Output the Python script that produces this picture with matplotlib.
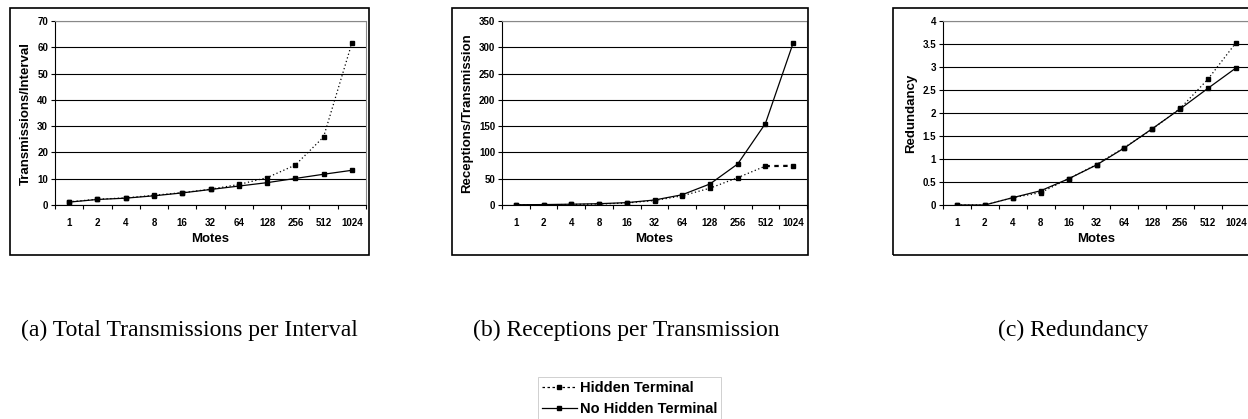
import numpy as np
import matplotlib.pyplot as plt
from matplotlib.patches import Rectangle
from matplotlib.lines import Line2D

plt.rcParams.update({
    'font.family': 'Liberation Sans',
    'font.weight': 'bold',
    'font.size': 7,
})

# --------------------------------------------------------------------------
# Data
# --------------------------------------------------------------------------
motes = ['1', '2', '4', '8', '16', '32', '64', '128', '256', '512', '1024']

tx_hidden    = [1.2, 2.2, 2.7, 3.7, 4.7, 6.0, 7.8, 10.4, 15.2, 25.9, 61.6]
tx_nohidden  = [1.1, 2.1, 2.6, 3.5, 4.6, 5.9, 7.2, 8.5, 10.1, 11.7, 13.2]

rx_hidden    = [0.5, 0.5, 1.0, 1.8, 3.8, 8.5, 17.5, 32.0, 52.0, 74.0, 74.5]
rx_nohidden  = [0.5, 0.8, 1.5, 2.5, 4.5, 9.5, 19.5, 40.0, 78.0, 155.0, 308.0]

red_hidden   = [0.0, 0.0, 0.16, 0.27, 0.57, 0.88, 1.25, 1.65, 2.10, 2.74, 3.53]
red_nohidden = [0.0, 0.0, 0.16, 0.31, 0.57, 0.87, 1.24, 1.66, 2.09, 2.54, 2.98]

W, H = 1248, 419
fig = plt.figure(figsize=(W / 100, H / 100), dpi=100)


def px_axes(left, right, top, bottom):
    return fig.add_axes([left / W, 1 - bottom / H, (right - left) / W, (bottom - top) / H])


def frame(left, right, top, bottom):
    fig.patches.append(Rectangle((left / W, 1 - bottom / H), (right - left) / W, (bottom - top) / H,
                                 transform=fig.transFigure, fill=False, ec='black', lw=1.2))


def panel(ax, hid, nohid, ymax, ystep, ylabel, thick_last=False):
    x = np.arange(len(motes))
    yt = np.arange(0, ymax + ystep / 2, ystep)
    ax.set_xlim(-0.5, len(motes) - 0.5)
    ax.set_ylim(0, ymax)
    ax.set_yticks(yt)
    ax.set_yticklabels([f'{v:g}' for v in yt])
    ax.yaxis.grid(True, color='black', lw=0.8)
    ax.set_axisbelow(True)
    ax.set_xticks(x)
    ax.set_xticklabels(motes)
    ax.set_xticks(np.arange(-0.5, len(motes)), minor=True)
    ax.tick_params(axis='x', which='major', length=0, pad=9)
    ax.tick_params(axis='x', which='minor', length=3, width=0.8, direction='out')
    ax.tick_params(axis='y', length=3, width=0.8, pad=2)
    for s in ['top', 'right']:
        ax.spines[s].set_color('#888888')
        ax.spines[s].set_linewidth(0.8)
    for s in ['left', 'bottom']:
        ax.spines[s].set_linewidth(0.8)

    if thick_last:
        ax.plot(x[:-1], hid[:-1], color='black', ls=(0, (1, 2)), lw=0.9)
        ax.plot(x[-2:], hid[-2:], color='black', ls=(0, (2, 2)), lw=1.6)
    else:
        ax.plot(x, hid, color='black', ls=(0, (1, 2)), lw=0.9)
    ax.plot(x, hid, ls='none', marker='s', ms=3.5, color='black')
    ax.plot(x, nohid, color='black', ls='-', lw=0.9, marker='s', ms=3.5)
    ax.set_xlabel('Motes', fontsize=9.5, fontweight='bold', labelpad=4)
    ax.set_ylabel(ylabel, fontsize=9.5, fontweight='bold', labelpad=4)


# (a)
frame(10, 369, 8, 255)
ax1 = px_axes(55, 366, 21, 205)
panel(ax1, tx_hidden, tx_nohidden, 70, 10, 'Transmissions/Interval')

# (b)
frame(452, 808, 8, 255)
ax2 = px_axes(502, 807, 21, 205)
panel(ax2, rx_hidden, rx_nohidden, 350, 50, 'Receptions/Transmission', thick_last=True)

# (c)
frame(893, 1260, 8, 255)
ax3 = px_axes(943, 1250, 21, 205)
panel(ax3, red_hidden, red_nohidden, 4, 0.5, 'Redundancy')

# captions
cap = dict(fontsize=17, fontweight='normal', family='Liberation Serif', ha='center', va='center')
fig.text(189 / W, 1 - 330 / H, '(a) Total Transmissions per Interval', **cap)
fig.text(626 / W, 1 - 330 / H, '(b) Receptions per Transmission', **cap)
fig.text(1073 / W, 1 - 330 / H, '(c) Redundancy', **cap)

# legend
handles = [
    Line2D([], [], color='black', ls=(0, (2, 2)), lw=0.9, marker='s', ms=3.5),
    Line2D([], [], color='black', ls='-', lw=0.9, marker='s', ms=3.5),
]
leg = fig.legend(handles, ['Hidden Terminal', 'No Hidden Terminal'],
                 loc='upper left', bbox_to_anchor=(538 / W, 1 - 377 / H),
                 fontsize=10.5, frameon=True, fancybox=False, handlelength=2.4,
                 handletextpad=0.2, borderpad=0.25, borderaxespad=0, labelspacing=0.5)
leg.get_frame().set_edgecolor('#bbbbbb')
leg.get_frame().set_linewidth(0.6)

fig.savefig('out.png', dpi=100)
